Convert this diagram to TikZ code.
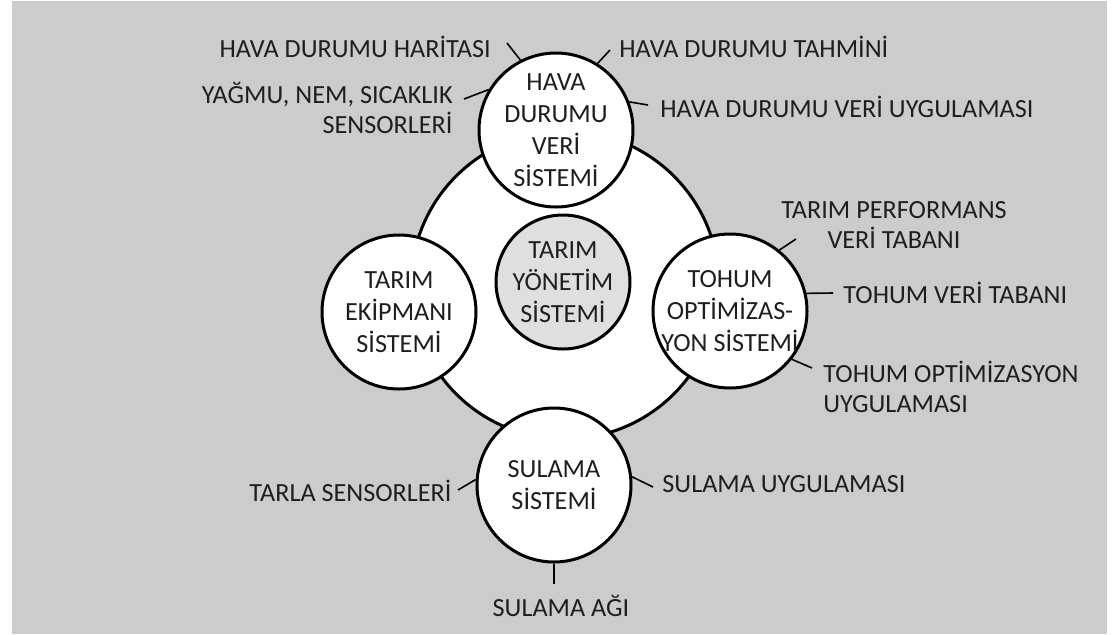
\documentclass[tikz,border=0pt]{standalone}
\usepackage{fontspec}
\setmainfont{Carlito}
\usepackage{xcolor}
\definecolor{bggrey}{HTML}{CCCCCC}
\definecolor{hubgrey}{HTML}{DFDFDF}
\definecolor{ink}{HTML}{1E1E1E}

\begin{document}
\begin{tikzpicture}[x=0.5pt,y=-0.5pt]
	\tikzstyle{sys} = [circle,fill=white,draw=black,line width=1.5pt,minimum size=77pt,inner sep=-6pt,align=center,text=ink,font=\fontsize{13.1}{16}\selectfont]
	\tikzstyle{hub} = [sys,fill=hubgrey,minimum size=67pt]
	\tikzstyle{lbl} = [inner sep=0pt,text=ink,font=\fontsize{13.1}{15}\selectfont]
	\tikzstyle{edge} = [-,line width=0.8pt]
	\useasboundingbox (0,0) rectangle (1115,634);
	\fill[bggrey] (12,1) rectangle (1107,634);
	% outer ring and the five systems
	\node[circle,fill=white,draw=black,line width=1.5pt,minimum size=154pt] (ring) at (565,285) {};
	\node[hub] (yonetim) at (563,282) {TARIM\\YÖNETİM\\SİSTEMİ};
	\node[sys] (hava) at (556,130) {HAVA\\DURUMU\\VERİ\\SİSTEMİ};
	\node[sys] (ekipman) at (399,312) {TARIM\\EKİPMANI\\SİSTEMİ};
	\node[sys] (tohum) at (730,311) {TOHUM\\OPTİMİZAS-\\YON SİSTEMİ};
	\node[sys] (sulama) at (554,485) {SULAMA\\SİSTEMİ};
	% labels
	\node[lbl,anchor=east] (harita) at (491,47) {HAVA DURUMU HARİTASI};
	\node[lbl,anchor=east,align=right] (sensor) at (453,108) {YAĞMU, NEM, SICAKLIK\\SENSORLERİ};
	\node[lbl,anchor=west] (tahmin) at (619,47) {HAVA DURUMU TAHMİNİ};
	\node[lbl,anchor=west] (veriuyg) at (660,107) {HAVA DURUMU VERİ UYGULAMASI};
	\node[lbl,align=center] (perf) at (894,225) {TARIM PERFORMANS\\VERİ TABANI};
	\node[lbl,anchor=west] (tohumdb) at (843,293) {TOHUM VERİ TABANI};
	\node[lbl,anchor=west,align=left] (tohumuyg) at (823,387) {TOHUM OPTİMİZASYON\\UYGULAMASI};
	\node[lbl,anchor=west] (sulamauyg) at (662,484) {SULAMA UYGULAMASI};
	\node[lbl,anchor=east] (tarla) at (452,491) {TARLA SENSORLERİ};
	\node[lbl] (ag) at (561,606) {SULAMA AĞI};
	% free ends of the ticks
	\coordinate (e1) at (507,43);
	\coordinate (e2) at (464,99);
	\coordinate (e3) at (610,50);
	\coordinate (e4) at (648,105);
	\coordinate (e5) at (796,239);
	\coordinate (e6) at (833,293);
	\coordinate (e7) at (812,368);
	\coordinate (e8) at (653,487);
	\coordinate (e9) at (458,490);
	\coordinate (e10) at (554,584);
	\draw[edge] (hava.117)--(e1);
	\draw[edge] (hava.149)--(e2);
	\draw[edge] (hava.58)--(e3);
	\draw[edge] (hava.21)--(e4);
	\draw[edge] (tohum.51)--(e5);
	\draw[edge] (tohum.13)--(e6);
	\draw[edge] (tohum.-38)--(e7);
	\draw[edge] (sulama.6)--(e8);
	\draw[edge] (sulama.176)--(e9);
	\draw[edge] (sulama.-90)--(e10);
\end{tikzpicture}
\end{document}
